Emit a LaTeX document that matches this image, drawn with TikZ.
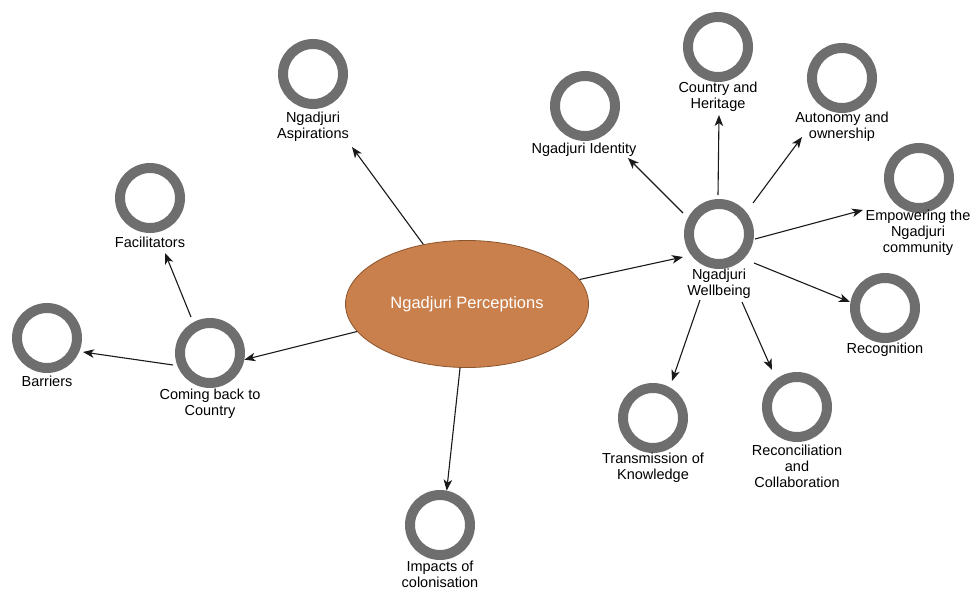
\documentclass[tikz,border=0pt]{standalone}
\usepackage{fontspec}
\setmainfont{Liberation Sans}
\usetikzlibrary{arrows.meta,shapes.geometric}

\definecolor{ringgrey}{RGB}{110,110,110}
\definecolor{clay}{RGB}{201,128,76}
\definecolor{clayedge}{RGB}{140,84,44}

\def \ringsize {60pt}
\def \ringwidth {10pt}

\tikzset{
  ring/.style={draw=ringgrey, line width=\ringwidth, circle, minimum size=\ringsize, inner sep=0pt},
  lbl/.style={align=center, inner sep=0pt, font=\fontsize{14.5}{16}\selectfont},
  perception/.style={ellipse, draw=clayedge, fill=clay, line width=0.8pt, minimum width=243pt,
    minimum height=127pt, text=white, font=\fontsize{16.5}{19}\selectfont},
  link/.style={-{Stealth[length=11pt,width=8.5pt,inset=3pt]}, line width=1.1pt, draw=black!90},
}

\begin{document}
\begin{tikzpicture}[x=1pt,y=-1pt]
\useasboundingbox (0,0) rectangle (975,591);

\node[perception] (perc) at (467,304) {Ngadjuri Perceptions}; % centre

% left branch
\node[ring] (asp) at (313,74) {};
\node[lbl] (asp-t) at (313,127) {Ngadjuri\\Aspirations};
\node[ring] (cbc) at (210,353) {};
\node[lbl] (cbc-t) at (210,404) {Coming back to\\Country};
\node[ring] (fac) at (150,198) {};
\node[lbl] (fac-t) at (150,242) {Facilitators};
\node[ring] (bar) at (47,338) {};
\node[lbl] (bar-t) at (47,381) {Barriers};
\node[ring] (imp) at (440,525) {};
\node[lbl] (imp-t) at (440,574) {Impacts of\\colonisation};

% right branch
\node[ring] (wel) at (719,234) {};
\node[lbl] (wel-t) at (719,284) {Ngadjuri\\Wellbeing};
\node[ring] (ide) at (585,106) {};
\node[lbl] (ide-t) at (584,150) {Ngadjuri Identity};
\node[ring] (cah) at (718,47) {};
\node[lbl] (cah-t) at (718,97) {Country and\\Heritage};
\node[ring] (aut) at (842,78) {};
\node[lbl] (aut-t) at (842,127) {Autonomy and\\ownership};
\node[ring] (emp) at (919,178) {};
\node[lbl] (emp-t) at (918,233) {Empowering the\\Ngadjuri\\community};
\node[ring] (rec) at (885,308) {};
\node[lbl] (rec-t) at (885,350) {Recognition};
\node[ring] (tra) at (653,418) {};
\node[lbl] (tra-t) at (653,468) {Transmission of\\Knowledge};
\node[ring] (recon) at (797,407) {};
\node[lbl] (recon-t) at (797,466) {Reconciliation\\and\\Collaboration};

% from the centre
\draw[link] (perc) -- ([shift={(39,20)}]asp-t.center);
\draw[link] (perc) -- ([shift={(-36,23)}]wel.center);
\draw[link] (perc) -- (cbc.-11);
\draw[link] (perc) -- (imp.79);

% coming back to country
\draw[link] ([shift={(-19,-36)}]cbc.center) -- ([shift={(15,11)}]fac-t.center);
\draw[link] ([shift={(-37,12)}]cbc.center) -- ([shift={(36,14)}]bar.center);

% wellbeing
\draw[link] ([shift={(-36,-21)}]wel.center) -- ([shift={(44,8)}]ide-t.center);
\draw[link] ([shift={(-1,-39)}]wel.center) -- ([shift={(1,18)}]cah-t.center);
\draw[link] ([shift={(34,-31)}]wel.center) -- ([shift={(-40,10)}]aut-t.center);
\draw[link] ([shift={(36,5)}]wel.center) -- ([shift={(-55,-23)}]emp-t.center);
\draw[link] ([shift={(35,29)}]wel.center) -- ([shift={(-35,-6)}]rec.center);
\draw[link] ([shift={(-19,16)}]wel-t.center) -- ([shift={(19,-37)}]tra.center);
\draw[link] ([shift={(23,18)}]wel-t.center) -- ([shift={(-25,-37)}]recon.center);
\end{tikzpicture}
\end{document}
